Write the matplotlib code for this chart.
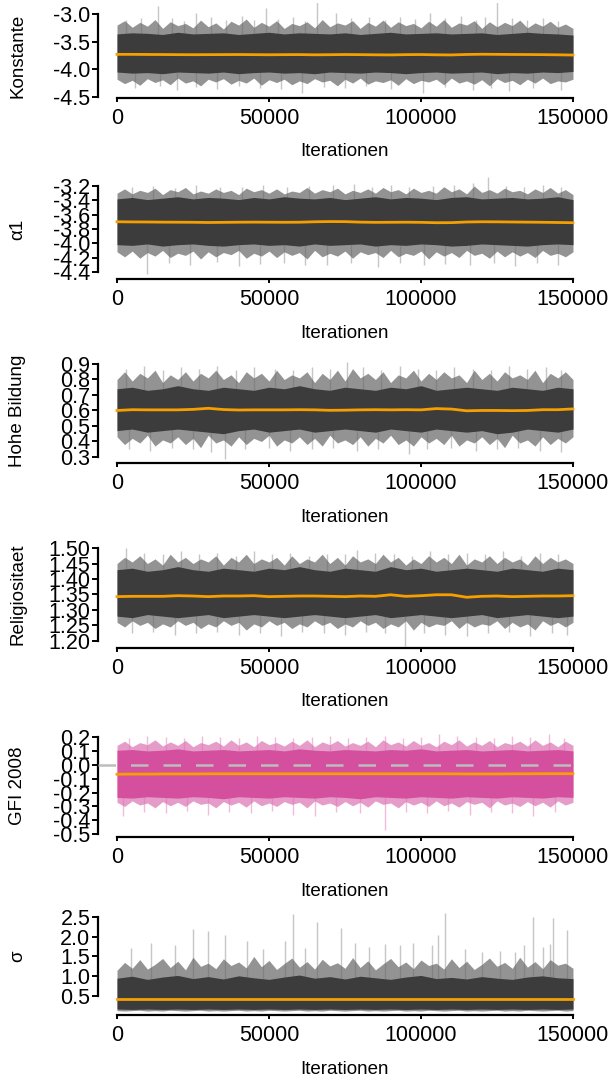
import numpy as np
import matplotlib
matplotlib.use("Agg")
import matplotlib.pyplot as plt

plt.rcParams["font.family"] = ["Liberation Sans", "DejaVu Sans"]
plt.rcParams["axes.unicode_minus"] = False

# ---- data (trace envelopes, spikes, running mean) ----
env_x = [0, 5000, 10000, 15000, 20000, 25000, 30000, 35000, 40000, 45000,
         50000, 55000, 60000, 65000, 70000, 75000, 80000, 85000, 90000, 95000,
         100000, 105000, 110000, 115000, 120000, 125000, 130000, 135000,
         140000, 145000, 150000]
# finer grid for the ragged outer edge of the traces
fine_x = [0, 2500, 5000, 7500, 10000, 12500, 15000, 17500, 20000, 22500, 25000, 27500,
          30000, 32500, 35000, 37500, 40000, 42500, 45000, 47500, 50000, 52500, 55000,
          57500, 60000, 62500, 65000, 67500, 70000, 72500, 75000, 77500, 80000, 82500,
          85000, 87500, 90000, 92500, 95000, 97500, 100000, 102500, 105000, 107500,
          110000, 112500, 115000, 117500, 120000, 122500, 125000, 127500, 130000, 132500,
          135000, 137500, 140000, 142500, 145000, 147500, 150000]

# Konstante
k_core_hi = [-3.36, -3.34, -3.35, -3.37, -3.33, -3.36, -3.35, -3.34, -3.37, -3.35, -3.33,
             -3.36, -3.34, -3.35, -3.36, -3.34, -3.37, -3.35, -3.33, -3.36, -3.35, -3.34,
             -3.36, -3.35, -3.34, -3.37, -3.35, -3.33, -3.35, -3.36, -3.38]
k_core_lo = [-4.05, -4.07, -4.06, -4.08, -4.05, -4.06, -4.07, -4.05, -4.08, -4.06, -4.05,
             -4.07, -4.06, -4.08, -4.05, -4.06, -4.07, -4.05, -4.06, -4.08, -4.06, -4.05,
             -4.07, -4.06, -4.05, -4.08, -4.06, -4.07, -4.05, -4.06, -4.04]
k_fuzz_hi = [-3.20, -3.12, -3.24, -3.15, -3.22, -3.10, -3.26, -3.14, -3.21, -3.17, -3.25,
             -3.11, -3.23, -3.16, -3.27, -3.13, -3.20, -3.09, -3.24, -3.15, -3.22, -3.12,
             -3.26, -3.17, -3.21, -3.14, -3.25, -3.10, -3.23, -3.16, -3.20, -3.12, -3.26,
             -3.15, -3.22, -3.11, -3.24, -3.14, -3.21, -3.17, -3.25, -3.13, -3.22, -3.10,
             -3.24, -3.16, -3.20, -3.12, -3.26, -3.14, -3.23, -3.15, -3.21, -3.11, -3.25,
             -3.16, -3.22, -3.13, -3.24, -3.18, -3.26]
k_fuzz_lo = [-4.18, -4.26, -4.20, -4.29, -4.17, -4.24, -4.19, -4.28, -4.16, -4.25, -4.21,
             -4.30, -4.18, -4.23, -4.17, -4.27, -4.20, -4.25, -4.16, -4.29, -4.19, -4.24,
             -4.18, -4.28, -4.21, -4.26, -4.17, -4.23, -4.20, -4.30, -4.18, -4.25, -4.16,
             -4.27, -4.21, -4.24, -4.19, -4.29, -4.17, -4.26, -4.20, -4.23, -4.18, -4.28,
             -4.16, -4.25, -4.21, -4.27, -4.19, -4.30, -4.17, -4.24, -4.20, -4.28, -4.18,
             -4.25, -4.16, -4.26, -4.21, -4.23, -4.18]
k_up_x = [3000, 8000, 13500, 18000, 22000, 26000, 31000, 36000, 41000, 45000, 49000, 53000,
          58000, 62000, 65800, 72000, 77000, 83000, 88000, 93000, 98000, 103000, 108000,
          113000, 118000, 121000, 125000, 130000, 135000, 140000, 145000]
k_up_y = [-3.10, -3.08, -2.86, -3.07, -3.12, -2.98, -3.06, -3.10, -3.04, -3.11, -2.89, -3.09,
          -3.06, -3.12, -2.70, -2.99, -3.08, -3.05, -3.11, -3.06, -3.09, -2.98, -3.07,
          -3.04, -3.10, -3.06, -2.70, -3.08, -3.11, -3.07, -3.12]
k_dn_x = [6000, 14000, 19700, 26000, 33000, 40000, 47000, 54000, 61000, 68000, 75000,
          82000, 90000, 100700, 108000, 117000, 123000, 129000, 137000, 146000]
k_dn_y = [-4.33, -4.30, -4.37, -4.32, -4.35, -4.31, -4.33, -4.36, -4.43, -4.32, -4.34,
          -4.31, -4.35, -4.43, -4.32, -4.38, -4.33, -4.40, -4.34, -4.37]
k_mean = [-3.73, -3.73, -3.732, -3.733, -3.735, -3.736, -3.735, -3.734, -3.733, -3.735,
          -3.737, -3.735, -3.734, -3.738, -3.736, -3.733, -3.735, -3.738, -3.74, -3.735,
          -3.733, -3.738, -3.74, -3.732, -3.728, -3.73, -3.732, -3.733, -3.735, -3.738, -3.742]

# alpha1
a_core_hi = [-3.38, -3.36, -3.39, -3.37, -3.35, -3.38, -3.36, -3.37, -3.39, -3.36, -3.38,
             -3.35, -3.37, -3.38, -3.36, -3.39, -3.37, -3.35, -3.38, -3.36, -3.37, -3.39,
             -3.36, -3.35, -3.38, -3.37, -3.36, -3.38, -3.37, -3.35, -3.39]
a_core_lo = [-4.02, -4.03, -4.01, -4.04, -4.02, -4.01, -4.03, -4.04, -4.02, -4.01, -4.03,
             -4.02, -4.04, -4.01, -4.03, -4.02, -4.01, -4.04, -4.02, -4.03, -4.01, -4.02,
             -4.04, -4.03, -4.01, -4.02, -4.03, -4.04, -4.02, -4.01, -4.02]
a_fuzz_hi = [-3.30, -3.24, -3.31, -3.26, -3.29, -3.23, -3.32, -3.25, -3.28, -3.22, -3.31,
             -3.27, -3.30, -3.24, -3.29, -3.26, -3.32, -3.23, -3.28, -3.25, -3.30, -3.24,
             -3.31, -3.27, -3.29, -3.22, -3.30, -3.25, -3.28, -3.23, -3.31, -3.26, -3.29,
             -3.24, -3.30, -3.22, -3.28, -3.25, -3.31, -3.23, -3.29, -3.26, -3.30, -3.21,
             -3.28, -3.24, -3.31, -3.20, -3.29, -3.25, -3.30, -3.23, -3.28, -3.26, -3.31,
             -3.24, -3.29, -3.22, -3.30, -3.25, -3.32]
a_fuzz_lo = [-4.12, -4.19, -4.11, -4.21, -4.13, -4.18, -4.10, -4.20, -4.14, -4.17, -4.11,
             -4.22, -4.12, -4.19, -4.13, -4.16, -4.10, -4.21, -4.14, -4.18, -4.11, -4.20,
             -4.12, -4.17, -4.13, -4.22, -4.10, -4.19, -4.14, -4.18, -4.11, -4.21, -4.12,
             -4.16, -4.13, -4.20, -4.10, -4.19, -4.14, -4.17, -4.11, -4.22, -4.12, -4.18,
             -4.13, -4.20, -4.10, -4.17, -4.14, -4.21, -4.11, -4.19, -4.12, -4.18, -4.13,
             -4.20, -4.10, -4.17, -4.14, -4.19, -4.12]
a_up_x = [5000, 12000, 19000, 26000, 34000, 41000, 48000, 56000, 63000, 71000, 78000,
          84000, 90000, 96000, 104000, 111000, 117000, 122000, 128000, 134000, 140000, 146000]
a_up_y = [-3.22, -3.20, -3.23, -3.18, -3.22, -3.21, -3.19, -3.22, -3.20, -3.18, -3.17,
          -3.21, -3.19, -3.22, -3.20, -3.19, -3.16, -3.07, -3.20, -3.21, -3.18, -3.22]
a_dn_x = [10000, 17000, 24000, 33000, 40000, 47000, 55000, 62000, 69000, 77000, 86000,
          93000, 101000, 108000, 116000, 124000, 131000, 138000, 145000]
a_dn_y = [-4.43, -4.28, -4.30, -4.26, -4.32, -4.29, -4.27, -4.30, -4.31, -4.28, -4.33,
          -4.27, -4.30, -4.29, -4.31, -4.28, -4.32, -4.27, -4.30]
a_mean = [-3.70, -3.702, -3.703, -3.705, -3.706, -3.707, -3.71, -3.708, -3.706, -3.705,
          -3.706, -3.707, -3.706, -3.70, -3.697, -3.698, -3.705, -3.708, -3.707, -3.706,
          -3.708, -3.713, -3.712, -3.703, -3.70, -3.701, -3.703, -3.705, -3.707, -3.71, -3.713]

# Hohe Bildung
h_core_hi = [0.74, 0.75, 0.73, 0.74, 0.76, 0.74, 0.73, 0.75, 0.74, 0.73, 0.75, 0.74, 0.76,
             0.74, 0.73, 0.75, 0.74, 0.73, 0.75, 0.74, 0.76, 0.73, 0.74, 0.75, 0.74, 0.73,
             0.75, 0.74, 0.73, 0.75, 0.74]
h_core_lo = [0.47, 0.48, 0.46, 0.47, 0.48, 0.47, 0.46, 0.45, 0.47, 0.48, 0.46, 0.47, 0.48,
             0.46, 0.47, 0.48, 0.47, 0.46, 0.48, 0.47, 0.46, 0.48, 0.47, 0.46, 0.47, 0.45,
             0.46, 0.48, 0.47, 0.46, 0.48]
h_fuzz_hi = [0.80, 0.85, 0.79, 0.84, 0.81, 0.86, 0.78, 0.83, 0.80, 0.85, 0.79, 0.84, 0.81,
             0.86, 0.80, 0.83, 0.78, 0.85, 0.81, 0.84, 0.79, 0.86, 0.80, 0.83, 0.81, 0.85,
             0.78, 0.84, 0.80, 0.86, 0.79, 0.87, 0.81, 0.84, 0.80, 0.85, 0.78, 0.83, 0.81,
             0.86, 0.79, 0.84, 0.80, 0.85, 0.81, 0.83, 0.78, 0.86, 0.80, 0.84, 0.79, 0.85,
             0.81, 0.83, 0.80, 0.86, 0.78, 0.84, 0.81, 0.85, 0.80]
h_fuzz_lo = [0.43, 0.38, 0.42, 0.39, 0.44, 0.37, 0.41, 0.39, 0.43, 0.38, 0.42, 0.36, 0.44,
             0.39, 0.41, 0.37, 0.43, 0.38, 0.42, 0.40, 0.44, 0.37, 0.41, 0.39, 0.43, 0.38,
             0.42, 0.37, 0.44, 0.39, 0.41, 0.38, 0.43, 0.37, 0.42, 0.39, 0.44, 0.38, 0.41,
             0.37, 0.43, 0.39, 0.42, 0.38, 0.44, 0.37, 0.41, 0.39, 0.43, 0.38, 0.42, 0.36,
             0.44, 0.39, 0.41, 0.37, 0.43, 0.38, 0.42, 0.39, 0.43]
h_up_x = [3000, 9000, 15000, 21000, 27000, 33000, 39000, 45000, 52000, 58000, 64000, 70000,
          75600, 81000, 87000, 93000, 99000, 105000, 111000, 117000, 123000, 129000, 135000,
          141000, 146000]
h_up_y = [0.87, 0.89, 0.86, 0.88, 0.87, 0.89, 0.86, 0.88, 0.87, 0.86, 0.88, 0.87, 0.91,
          0.88, 0.86, 0.89, 0.87, 0.86, 0.88, 0.87, 0.86, 0.89, 0.87, 0.88, 0.86]
h_dn_x = [4000, 11000, 18000, 25000, 31000, 35500, 42000, 50000, 57000, 64000, 71000,
          79000, 86000, 96000, 102000, 110000, 118000, 125000, 132000, 139000, 146000]
h_dn_y = [0.35, 0.34, 0.36, 0.35, 0.33, 0.29, 0.35, 0.36, 0.34, 0.35, 0.36, 0.34, 0.35,
          0.32, 0.35, 0.36, 0.34, 0.35, 0.36, 0.34, 0.33]
h_mean = [0.600, 0.605, 0.604, 0.604, 0.604, 0.607, 0.614, 0.606, 0.603, 0.604, 0.604,
          0.604, 0.605, 0.604, 0.601, 0.602, 0.604, 0.605, 0.604, 0.605, 0.604, 0.612,
          0.609, 0.598, 0.600, 0.600, 0.599, 0.600, 0.605, 0.605, 0.610]

# Religiositaet
r_core_hi = [1.43, 1.435, 1.425, 1.43, 1.44, 1.43, 1.425, 1.435, 1.43, 1.425, 1.435, 1.43,
             1.44, 1.43, 1.425, 1.435, 1.43, 1.425, 1.44, 1.43, 1.435, 1.425, 1.43, 1.435,
             1.43, 1.425, 1.435, 1.43, 1.425, 1.435, 1.43]
r_core_lo = [1.28, 1.275, 1.285, 1.28, 1.275, 1.28, 1.285, 1.275, 1.28, 1.285, 1.28, 1.275,
             1.28, 1.285, 1.28, 1.275, 1.28, 1.285, 1.275, 1.28, 1.285, 1.28, 1.275, 1.28,
             1.285, 1.275, 1.28, 1.285, 1.28, 1.275, 1.28]
r_fuzz_hi = [1.45, 1.47, 1.455, 1.475, 1.45, 1.465, 1.445, 1.48, 1.455, 1.47, 1.45, 1.465,
             1.455, 1.475, 1.445, 1.47, 1.455, 1.48, 1.45, 1.465, 1.455, 1.47, 1.445, 1.475,
             1.45, 1.465, 1.455, 1.48, 1.45, 1.47, 1.445, 1.475, 1.455, 1.465, 1.45, 1.48,
             1.455, 1.47, 1.445, 1.465, 1.45, 1.475, 1.455, 1.47, 1.45, 1.48, 1.445, 1.465,
             1.455, 1.475, 1.45, 1.47, 1.455, 1.465, 1.445, 1.475, 1.45, 1.47, 1.455, 1.465,
             1.45]
r_fuzz_lo = [1.26, 1.245, 1.265, 1.25, 1.26, 1.24, 1.255, 1.245, 1.265, 1.25, 1.26, 1.24,
             1.255, 1.245, 1.265, 1.25, 1.26, 1.235, 1.255, 1.245, 1.265, 1.25, 1.26, 1.24,
             1.255, 1.245, 1.265, 1.25, 1.26, 1.24, 1.255, 1.245, 1.265, 1.25, 1.26, 1.24,
             1.255, 1.245, 1.265, 1.235, 1.26, 1.245, 1.255, 1.25, 1.265, 1.24, 1.26, 1.245,
             1.255, 1.25, 1.265, 1.24, 1.26, 1.245, 1.255, 1.235, 1.265, 1.25, 1.26, 1.245,
             1.26]
r_up_x = [3000, 9000, 15000, 21000, 27000, 33000, 39000, 45000, 51000, 57000, 63000, 69000,
          75000, 79000, 85000, 91000, 97000, 103000, 109000, 115000, 121000, 127000, 133000,
          139000, 145000]
r_up_y = [1.50, 1.485, 1.48, 1.49, 1.48, 1.485, 1.475, 1.49, 1.48, 1.485, 1.475, 1.48,
          1.48, 1.495, 1.485, 1.48, 1.475, 1.49, 1.48, 1.485, 1.48, 1.49, 1.475, 1.485, 1.48]
r_dn_x = [5000, 12000, 19000, 26000, 33000, 40000, 47000, 54000, 61000, 68000, 75000,
          82000, 88000, 94800, 101000, 108000, 115000, 122000, 129000, 136000, 143000, 148000]
r_dn_y = [1.225, 1.23, 1.22, 1.225, 1.23, 1.22, 1.225, 1.215, 1.23, 1.225, 1.22, 1.23,
          1.225, 1.184, 1.225, 1.22, 1.215, 1.225, 1.23, 1.215, 1.225, 1.22]
r_mean = [1.343, 1.344, 1.344, 1.344, 1.346, 1.345, 1.343, 1.345, 1.345, 1.346, 1.343,
          1.344, 1.345, 1.345, 1.344, 1.343, 1.345, 1.344, 1.349, 1.344, 1.346, 1.349,
          1.349, 1.341, 1.344, 1.345, 1.343, 1.344, 1.345, 1.345, 1.346]

# GFI 2008
g_core_hi = [0.105, 0.11, 0.10, 0.105, 0.115, 0.10, 0.105, 0.11, 0.10, 0.105, 0.11, 0.10,
             0.115, 0.105, 0.10, 0.11, 0.105, 0.10, 0.11, 0.105, 0.115, 0.10, 0.105, 0.11,
             0.10, 0.105, 0.11, 0.10, 0.105, 0.11, 0.10]
g_core_lo = [-0.235, -0.24, -0.23, -0.235, -0.24, -0.23, -0.235, -0.245, -0.23, -0.235,
             -0.24, -0.23, -0.235, -0.24, -0.23, -0.235, -0.245, -0.23, -0.235, -0.24, -0.23,
             -0.235, -0.24, -0.23, -0.235, -0.24, -0.23, -0.235, -0.24, -0.23, -0.235]
g_fuzz_hi = [0.14, 0.17, 0.13, 0.16, 0.145, 0.18, 0.135, 0.165, 0.14, 0.175, 0.13, 0.16,
             0.145, 0.17, 0.135, 0.18, 0.14, 0.165, 0.13, 0.175, 0.145, 0.16, 0.135, 0.17,
             0.14, 0.18, 0.13, 0.165, 0.145, 0.175, 0.135, 0.16, 0.14, 0.17, 0.13, 0.18,
             0.145, 0.165, 0.135, 0.175, 0.14, 0.16, 0.13, 0.17, 0.145, 0.18, 0.135, 0.165,
             0.14, 0.175, 0.13, 0.16, 0.145, 0.17, 0.135, 0.18, 0.14, 0.165, 0.13, 0.17, 0.14]
g_fuzz_lo = [-0.27, -0.30, -0.26, -0.29, -0.275, -0.31, -0.265, -0.295, -0.27, -0.30,
             -0.26, -0.285, -0.275, -0.31, -0.265, -0.29, -0.27, -0.305, -0.26, -0.295,
             -0.275, -0.30, -0.265, -0.285, -0.27, -0.31, -0.26, -0.29, -0.275, -0.30,
             -0.265, -0.295, -0.27, -0.305, -0.26, -0.285, -0.275, -0.31, -0.265, -0.29,
             -0.27, -0.30, -0.26, -0.295, -0.275, -0.305, -0.265, -0.285, -0.27, -0.31,
             -0.26, -0.29, -0.275, -0.30, -0.265, -0.295, -0.27, -0.305, -0.26, -0.29, -0.27]
g_up_x = [4000, 10000, 16000, 22000, 28000, 34000, 40000, 46000, 52000, 58000, 64000,
          70000, 76000, 82000, 88000, 94000, 100000, 106000, 112000, 118000, 124000, 130000,
          136000, 142000, 147000]
g_up_y = [0.19, 0.21, 0.20, 0.19, 0.21, 0.20, 0.19, 0.21, 0.20, 0.19, 0.20, 0.21, 0.19,
          0.20, 0.21, 0.19, 0.20, 0.22, 0.21, 0.20, 0.19, 0.21, 0.20, 0.22, 0.19]
g_dn_x = [2000, 9000, 16000, 23000, 30000, 37000, 44000, 51000, 58000, 65000, 72000,
          80000, 88000, 95000, 102000, 109000, 116000, 123000, 130000, 137000, 144000]
g_dn_y = [-0.37, -0.34, -0.35, -0.33, -0.36, -0.34, -0.35, -0.33, -0.36, -0.37, -0.34,
          -0.35, -0.47, -0.34, -0.35, -0.33, -0.36, -0.34, -0.35, -0.37, -0.34]
g_mean = [-0.068, -0.067, -0.067, -0.066, -0.066, -0.066, -0.065, -0.065, -0.065, -0.065,
          -0.065, -0.065, -0.065, -0.065, -0.065, -0.065, -0.065, -0.065, -0.065, -0.065,
          -0.065, -0.065, -0.065, -0.066, -0.066, -0.066, -0.065, -0.065, -0.064, -0.064,
          -0.064]

# sigma
s_core_hi = [0.95, 1.00, 0.92, 0.98, 1.02, 0.94, 0.99, 0.93, 1.01, 0.96, 0.92, 0.98, 1.03,
             0.95, 0.99, 0.93, 1.00, 0.96, 0.92, 0.98, 1.02, 0.94, 0.97, 0.93, 0.99, 0.95,
             0.92, 0.98, 1.01, 0.96, 0.94]
s_core_lo = [0.17, 0.16, 0.17, 0.16, 0.17, 0.16, 0.17, 0.16, 0.17, 0.16, 0.17, 0.16, 0.17,
             0.16, 0.17, 0.16, 0.17, 0.16, 0.17, 0.16, 0.17, 0.16, 0.17, 0.16, 0.17, 0.16,
             0.17, 0.16, 0.17, 0.16, 0.17]
s_fuzz_hi = [1.15, 1.35, 1.20, 1.42, 1.18, 1.30, 1.45, 1.22, 1.38, 1.16, 1.48, 1.25, 1.33,
             1.19, 1.44, 1.27, 1.36, 1.21, 1.50, 1.24, 1.40, 1.17, 1.32, 1.46, 1.23, 1.37,
             1.18, 1.43, 1.26, 1.34, 1.20, 1.47, 1.22, 1.39, 1.16, 1.31, 1.45, 1.24, 1.36,
             1.19, 1.41, 1.27, 1.33, 1.18, 1.44, 1.22, 1.38, 1.17, 1.30, 1.46, 1.25, 1.35,
             1.20, 1.48, 1.23, 1.37, 1.19, 1.42, 1.28, 1.33, 1.20]
s_fuzz_lo = [0.13, 0.12, 0.13, 0.14, 0.12, 0.13, 0.12, 0.14, 0.13, 0.12, 0.13, 0.14, 0.12,
             0.13, 0.12, 0.13, 0.14, 0.12, 0.13, 0.12, 0.14, 0.13, 0.12, 0.13, 0.14, 0.12,
             0.13, 0.12, 0.14, 0.13, 0.12, 0.13, 0.14, 0.12, 0.13, 0.12, 0.13, 0.14, 0.12,
             0.13, 0.12, 0.14, 0.13, 0.12, 0.13, 0.14, 0.12, 0.13, 0.12, 0.13, 0.14, 0.12,
             0.13, 0.12, 0.14, 0.13, 0.12, 0.13, 0.14, 0.12, 0.13]
s_up_x = [4600, 11200, 19100, 25000, 30000, 35500, 42800, 48000, 55300, 58000, 62000,
          65800, 73700, 78300, 83000, 88000, 93000, 97400, 103600, 105600, 108000, 114500,
          120000, 126000, 131000, 134000, 137000, 140000, 142400, 143500, 148000]
s_up_y = [1.72, 1.84, 1.78, 2.20, 2.15, 2.05, 1.88, 1.70, 1.88, 2.58, 1.72, 2.37, 2.22,
          1.83, 1.75, 1.82, 1.80, 1.85, 1.80, 2.05, 2.60, 1.70, 1.60, 1.65, 1.62, 1.78,
          2.50, 1.75, 1.82, 2.48, 2.17]
s_dn_x = []
s_dn_y = []
s_mean = [0.42, 0.42, 0.42, 0.42, 0.42, 0.42, 0.42, 0.42, 0.42, 0.42, 0.42, 0.42, 0.42,
          0.42, 0.42, 0.42, 0.42, 0.42, 0.42, 0.42, 0.42, 0.42, 0.42, 0.42, 0.42, 0.42,
          0.42, 0.42, 0.42, 0.42, 0.42]

panels = [
    dict(label="Konstante", ticks=[-3.0, -3.5, -4.0, -4.5], fmt="%.1f",
         ylim=(-4.52, -2.80), px=(3, 98),
         core=(k_core_lo, k_core_hi), fuzz=(k_fuzz_lo, k_fuzz_hi),
         up=(k_up_x, k_up_y), dn=(k_dn_x, k_dn_y), mean=k_mean, pink=False),
    dict(label="\u03b11", ticks=[-3.2, -3.4, -3.6, -3.8, -4.0, -4.2, -4.4], fmt="%.1f",
         ylim=(-4.50, -3.06), px=(176, 279),
         core=(a_core_lo, a_core_hi), fuzz=(a_fuzz_lo, a_fuzz_hi),
         up=(a_up_x, a_up_y), dn=(a_dn_x, a_dn_y), mean=a_mean, pink=False),
    dict(label="Hohe Bildung", ticks=[0.9, 0.8, 0.7, 0.6, 0.5, 0.4, 0.3], fmt="%.1f",
         ylim=(0.261, 0.958), px=(355, 463),
         core=(h_core_lo, h_core_hi), fuzz=(h_fuzz_lo, h_fuzz_hi),
         up=(h_up_x, h_up_y), dn=(h_dn_x, h_dn_y), mean=h_mean, pink=False),
    dict(label="Religiositaet", ticks=[1.50, 1.45, 1.40, 1.35, 1.30, 1.25, 1.20], fmt="%.2f",
         ylim=(1.177, 1.526), px=(540, 648),
         core=(r_core_lo, r_core_hi), fuzz=(r_fuzz_lo, r_fuzz_hi),
         up=(r_up_x, r_up_y), dn=(r_dn_x, r_dn_y), mean=r_mean, pink=False),
    dict(label="GFI 2008", ticks=[0.2, 0.1, 0.0, -0.1, -0.2, -0.3, -0.4, -0.5], fmt="%.1f",
         ylim=(-0.52, 0.265), px=(728, 837),
         core=(g_core_lo, g_core_hi), fuzz=(g_fuzz_lo, g_fuzz_hi),
         up=(g_up_x, g_up_y), dn=(g_dn_x, g_dn_y), mean=g_mean, pink=True),
    dict(label="\u03c3", ticks=[2.5, 2.0, 1.5, 1.0, 0.5], fmt="%.1f",
         ylim=(0.02, 2.80), px=(905, 1015),
         core=(s_core_lo, s_core_hi), fuzz=(s_fuzz_lo, s_fuzz_hi),
         up=(s_up_x, s_up_y), dn=(s_dn_x, s_dn_y), mean=s_mean, pink=False),
]
xticks = [0, 50000, 100000, 150000]

W, H = 609, 1078
fig = plt.figure(figsize=(W / 100, H / 100), dpi=100)

for p in panels:
    top, bot = p["px"]
    ax = fig.add_axes([98 / W, 1 - bot / H, (585 - 98) / W, (bot - top) / H])
    if p["pink"]:
        c_core, c_fuzz, c_spike = "#d4509f", "#dc72b3", "#f1bcdb"
    else:
        c_core, c_fuzz, c_spike = "#3c3c3c", "#666666", "#c6c6c6"

    base = np.array(p["mean"])
    ux, uy = p["up"]
    if ux:
        ax.vlines(ux, np.interp(ux, env_x, base), uy, color=c_spike, lw=1.0, zorder=1)
    dx, dy = p["dn"]
    if dx:
        ax.vlines(dx, np.interp(dx, env_x, base), dy, color=c_spike, lw=1.0, zorder=1)
    ax.fill_between(fine_x, p["fuzz"][0], p["fuzz"][1], color=c_fuzz, alpha=0.7,
                    lw=0, zorder=2)
    ax.fill_between(env_x, p["core"][0], p["core"][1], color=c_core, lw=0, zorder=3)
    if p["pink"]:
        ax.axhline(0, color="#bdbdbd", lw=1.8, dashes=(7, 6), zorder=4, clip_on=False)
    ax.plot(env_x, p["mean"], color="#f5a000", lw=2.0, zorder=5)

    ax.set_xlim(-6250, 153950)
    ax.set_ylim(*p["ylim"])
    for s in ["top", "right"]:
        ax.spines[s].set_visible(False)
    ax.spines["left"].set_bounds(min(p["ticks"]), max(p["ticks"]))
    ax.spines["bottom"].set_bounds(0, 150000)
    ax.spines["left"].set_linewidth(1.6)
    ax.spines["bottom"].set_linewidth(1.6)
    ax.set_yticks(p["ticks"])
    ax.set_yticklabels([p["fmt"] % t for t in p["ticks"]])
    ax.set_xticks(xticks)
    ax.set_xticklabels([str(t) for t in xticks])
    ax.tick_params(axis="y", length=4, width=1.4, pad=1.5, labelsize=15.5)
    ax.tick_params(axis="x", length=3, width=1.4, pad=4, labelsize=15.5)

    y0, y1 = p["ylim"]
    mid = (min(p["ticks"]) + max(p["ticks"])) / 2
    ycen = top + (y1 - mid) / (y1 - y0) * (bot - top)
    fig.text(18 / W, 1 - ycen / H, p["label"], rotation=90, ha="center", va="center",
             fontsize=13.5)
    fig.text(345 / W, 1 - (bot + 54) / H, "Iterationen", ha="center", va="center",
             fontsize=13.5)

fig.savefig("out.png", dpi=100)
